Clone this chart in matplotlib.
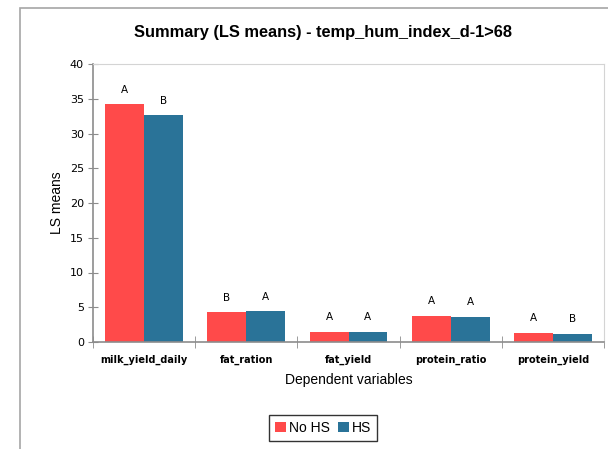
import numpy as np
import matplotlib.pyplot as plt
from matplotlib.patches import Rectangle

categories = ['milk_yield_daily', 'fat_ration', 'fat_yield', 'protein_ratio', 'protein_yield']
no_hs = [34.2, 4.25, 1.44, 3.74, 1.3]
hs = [32.6, 4.4, 1.42, 3.57, 1.15]
no_hs_letters = ['A', 'B', 'A', 'A', 'A']
hs_letters = ['B', 'A', 'A', 'A', 'B']

red = '#FF4A4A'
blue = '#2A7398'
axis_gray = '#8C8C8C'

fig = plt.figure(figsize=(6.08, 4.49), dpi=100)
ax = fig.add_axes([93/608, 1 - 342/449, (604-93)/608, (342-64)/449])

x = np.arange(len(categories))
w = 0.38
b1 = ax.bar(x - w/2, no_hs, w, color=red, label='No HS', zorder=2)
b2 = ax.bar(x + w/2, hs, w, color=blue, label='HS', zorder=2)

# significance letters above the bars
for bars, letters in [(b1, no_hs_letters), (b2, hs_letters)]:
    for bar, lt in zip(bars, letters):
        ax.annotate(lt, (bar.get_x() + bar.get_width()/2, bar.get_height()),
                    xytext=(0, 7), textcoords='offset points',
                    ha='center', va='bottom', fontsize=7.5, family='DejaVu Sans')

ax.set_xlim(-0.5, 4.5)
ax.set_ylim(0, 40)
ax.set_yticks(range(0, 41, 5))
ax.set_xticks(x)
ax.set_xticklabels(categories, fontsize=7, fontweight='bold', family='DejaVu Sans')
ax.set_xticks(np.arange(-0.5, 5, 1), minor=True)
ax.tick_params(axis='x', which='major', length=0, pad=9)
ax.tick_params(axis='x', which='minor', direction='inout', length=8, color=axis_gray)
ax.tick_params(axis='y', direction='inout', length=7, color=axis_gray, labelsize=8, pad=3)
for lab in ax.get_yticklabels():
    lab.set_family('DejaVu Sans')

for s in ['left', 'bottom']:
    ax.spines[s].set_color(axis_gray)
    ax.spines[s].set_linewidth(1.2)
for s in ['top', 'right']:
    ax.spines[s].set_color('#D4D4D4')

ax.set_xlabel('Dependent variables', fontsize=10, family='Liberation Sans', labelpad=6)
ax.set_ylabel('LS means', fontsize=10, family='Liberation Sans', labelpad=4)

fig.text(323/608, 1 - 33/449, 'Summary (LS means) - temp_hum_index_d-1>68',
         ha='center', va='center', fontsize=11.8, fontweight='bold', family='Liberation Sans')

leg = fig.legend(loc='center', bbox_to_anchor=(323/608, 1 - 428/449), ncol=2,
                 frameon=True, fancybox=False, handlelength=0.8, handleheight=0.8,
                 handletextpad=0.2, columnspacing=0.6, borderpad=0.4,
                 prop={'family': 'Liberation Sans', 'size': 10})
leg.get_frame().set_edgecolor('black')
leg.get_frame().set_linewidth(1.0)

# outer chart frame
fig.patches.append(Rectangle((20/608, -0.1), 1.2, 1 - 8/449 + 0.1, transform=fig.transFigure,
                             fill=False, edgecolor='#A6A6A6', linewidth=1.2))

fig.savefig('out.png', dpi=100)
